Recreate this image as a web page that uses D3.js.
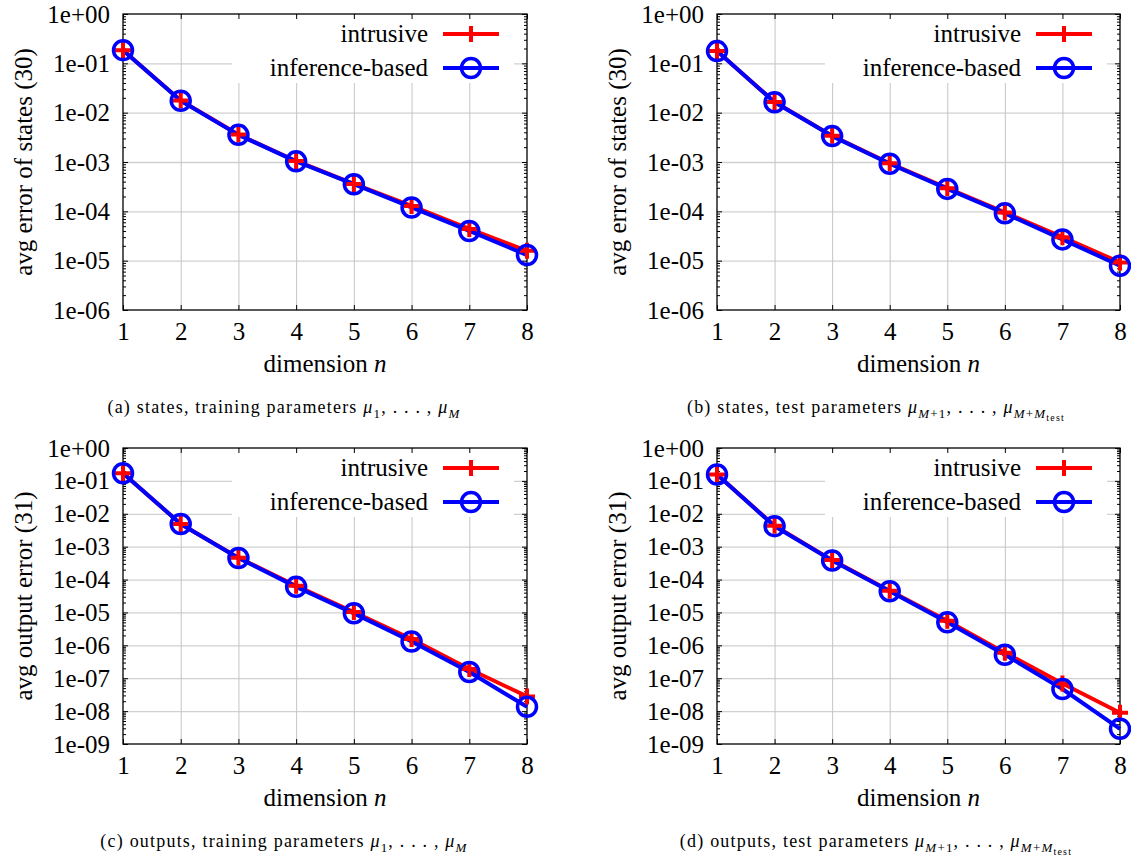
<!DOCTYPE html>
<html>
<head>
<meta charset="utf-8">
<script src="https://cdn.jsdelivr.net/npm/d3@7"></script>
<style>
  body { margin: 0; background: #fff; }
  svg text { font-family: "Liberation Serif", serif; fill: #000; }
</style>
</head>
<body>
<div id="chart"></div>
<script>
// reduced dimension n
const dims = [1, 2, 3, 4, 5, 6, 7, 8];

// values
const statesTrainIntrusive = [0.185, 0.0177, 3.6e-3, 1.05e-3, 3.6e-4, 1.29e-4, 4.4e-5, 1.58e-5];
const statesTrainInference = [0.185, 0.0175, 3.55e-3, 1.03e-3, 3.55e-4, 1.2e-4, 4.0e-5, 1.3e-5];
const statesTestIntrusive = [0.177, 0.0164, 3.4e-3, 9.4e-4, 2.95e-4, 9.5e-5, 3.0e-5, 9.2e-6];
const statesTestInference = [0.177, 0.0163, 3.35e-3, 9.2e-4, 2.85e-4, 9.1e-5, 2.7e-5, 7.9e-6];
const outputsTrainIntrusive = [0.171, 4.9e-3, 4.6e-4, 6.5e-5, 1.03e-5, 1.55e-6, 1.9e-7, 2.8e-8];
const outputsTrainInference = [0.171, 4.9e-3, 4.5e-4, 6.0e-5, 9.4e-6, 1.31e-6, 1.55e-7, 1.35e-8];
const outputsTestIntrusive = [0.156, 4.3e-3, 3.9e-4, 4.6e-5, 5.6e-6, 6.0e-7, 6.9e-8, 8.9e-9];
const outputsTestInference = [0.156, 4.2e-3, 3.8e-4, 4.4e-5, 5.0e-6, 5.2e-7, 4.7e-8, 2.9e-9];

const seriesNames = ["intrusive", "inference-based"];
const statesTicks = ["1e+00", "1e-01", "1e-02", "1e-03", "1e-04", "1e-05", "1e-06"];
const outputsTicks = ["1e+00", "1e-01", "1e-02", "1e-03", "1e-04", "1e-05", "1e-06", "1e-07", "1e-08", "1e-09"];
const statesTitle = "avg error of states (30)";
const outputsTitle = "avg output error (31)";

// caption pieces: [text, level (0 normal, 1 sub, 2 subsub), italic]
const captionA = [["(a) states, training parameters ", 0, false], ["μ", 0, true], ["1", 1, false],
  [", . . . , ", 0, false], ["μ", 0, true], ["M", 1, true]];
const captionB = [["(b) states, test parameters ", 0, false], ["μ", 0, true], ["M", 1, true], ["+1", 1, false],
  [", . . . , ", 0, false], ["μ", 0, true], ["M", 1, true], ["+", 1, false], ["M", 1, true], ["test", 2, false]];
const captionC = [["(c) outputs, training parameters ", 0, false], ["μ", 0, true], ["1", 1, false],
  [", . . . , ", 0, false], ["μ", 0, true], ["M", 1, true]];
const captionD = [["(d) outputs, test parameters ", 0, false], ["μ", 0, true], ["M", 1, true], ["+1", 1, false],
  [", . . . , ", 0, false], ["μ", 0, true], ["M", 1, true], ["+", 1, false], ["M", 1, true], ["test", 2, false]];

const RED = "#ff0000", BLUE = "#0000ff";
const FS = 25;

const svg = d3.select("#chart").append("svg")
  .attr("width", 1131)
  .attr("height", 860);

function drawPanel(p) {
  const w = p.right - p.left;
  const tickVals = p.ticks.map(Number);
  const x = d3.scaleLinear().domain([1, 8]).range([p.left, p.right]);
  const y = d3.scaleLog()
    .domain([tickVals[0], tickVals[tickVals.length - 1]])
    .range([p.top, p.bottom]);

  let minor = [];
  for (let e = 0; e > Math.log10(tickVals[tickVals.length - 1]); e--) {
    for (let k = 2; k <= 9; k++) minor.push(k * Math.pow(10, e - 1));
  }

  const g = svg.append("g");

  // grid
  g.append("g")
    .attr("transform", "translate(" + p.left + ",0)")
    .call(d3.axisLeft(y).tickValues(tickVals.slice(1, -1)).tickSize(-w).tickFormat(""))
    .call(s => s.select(".domain").remove())
    .selectAll("line").attr("stroke", "#d0d0d0").attr("stroke-width", 1.3);
  g.append("g")
    .attr("transform", "translate(0," + p.bottom + ")")
    .call(d3.axisBottom(x).tickValues(dims.slice(1, -1)).tickSize(-(p.bottom - p.top)).tickFormat(""))
    .call(s => s.select(".domain").remove())
    .selectAll("line").attr("stroke", "#c4c4c4").attr("stroke-width", 1);

  // legend background hides the grid
  g.append("rect")
    .attr("x", p.right - 295).attr("y", p.top + 1)
    .attr("width", 282).attr("height", 68)
    .attr("fill", "#fff");

  // ticks (inward, mirrored)
  const tickStyle = s => {
    s.select(".domain").remove();
    s.selectAll("line").attr("stroke", "#000").attr("stroke-width", 1);
    s.selectAll("text").attr("font-size", FS).attr("fill", "#000");
  };
  g.append("g").attr("transform", "translate(" + p.left + ",0)")
    .call(d3.axisLeft(y).tickValues(tickVals).tickFormat((d, i) => p.ticks[i]).tickSize(-5).tickPadding(13))
    .call(tickStyle);
  g.append("g").attr("transform", "translate(" + p.left + ",0)")
    .call(d3.axisLeft(y).tickValues(minor).tickFormat("").tickSize(-3))
    .call(tickStyle);
  g.append("g").attr("transform", "translate(" + p.right + ",0)")
    .call(d3.axisRight(y).tickValues(tickVals).tickFormat("").tickSize(-5))
    .call(tickStyle);
  g.append("g").attr("transform", "translate(" + p.right + ",0)")
    .call(d3.axisRight(y).tickValues(minor).tickFormat("").tickSize(-3))
    .call(tickStyle);
  g.append("g").attr("transform", "translate(0," + p.bottom + ")")
    .call(d3.axisBottom(x).tickValues(dims).tickFormat(d3.format("d")).tickSize(-5).tickPadding(12))
    .call(tickStyle);
  g.append("g").attr("transform", "translate(0," + p.top + ")")
    .call(d3.axisTop(x).tickValues(dims).tickFormat("").tickSize(-5))
    .call(tickStyle);

  // frame
  g.append("rect")
    .attr("x", p.left).attr("y", p.top)
    .attr("width", w).attr("height", p.bottom - p.top)
    .attr("fill", "none").attr("stroke", "#000").attr("stroke-width", 1.3);

  // axis titles
  g.append("text")
    .attr("transform", "translate(" + (p.left - 100) + "," + ((p.top + p.bottom) / 2) + ") rotate(-90)")
    .attr("text-anchor", "middle").attr("dy", "0.35em")
    .attr("font-size", FS)
    .text(p.title);
  const xt = g.append("text")
    .attr("x", (p.left + p.right) / 2).attr("y", p.bottom + 62)
    .attr("text-anchor", "middle").attr("font-size", FS);
  xt.append("tspan").text("dimension ");
  xt.append("tspan").attr("font-style", "italic").text("n");

  // data
  const line = d3.line().x((d, i) => x(dims[i])).y(d => y(d));
  const series = [
    { vals: p.intrusive, color: RED, mark: "plus" },
    { vals: p.inference, color: BLUE, mark: "circle" }
  ];
  series.forEach(s => {
    g.append("path").datum(s.vals)
      .attr("d", line)
      .attr("fill", "none").attr("stroke", s.color).attr("stroke-width", 4)
      .attr("stroke-linejoin", "round");
  });
  series.forEach(s => drawMarks(g, s.vals.map((v, i) => [x(dims[i]), y(v)]), s));

  // legend
  series.forEach((s, i) => {
    const ly = p.top + 20 + i * 34;
    g.append("text")
      .attr("x", p.right - 99).attr("y", ly).attr("dy", "0.32em")
      .attr("text-anchor", "end").attr("font-size", FS)
      .text(seriesNames[i]);
    g.append("line")
      .attr("x1", p.right - 84).attr("x2", p.right - 28)
      .attr("y1", ly).attr("y2", ly)
      .attr("stroke", s.color).attr("stroke-width", 4);
    drawMarks(g, [[p.right - 56, ly]], s);
  });

  // caption
  drawCaption(p.capX, p.bottom + 103, p.caption);
}

function drawMarks(g, pts, s) {
  if (s.mark === "circle") {
    g.selectAll(null).data(pts).enter().append("circle")
      .attr("cx", d => d[0]).attr("cy", d => d[1]).attr("r", 9.5)
      .attr("fill", "none").attr("stroke", s.color).attr("stroke-width", 3.5);
  } else {
    g.selectAll(null).data(pts).enter().append("path")
      .attr("d", d => "M" + (d[0] - 8) + "," + d[1] + "H" + (d[0] + 8) + "M" + d[0] + "," + (d[1] - 8) + "V" + (d[1] + 8))
      .attr("stroke", s.color).attr("stroke-width", 4).attr("fill", "none");
  }
}

function drawCaption(cx, y, parts) {
  const sizes = [18, 13, 10];
  const shifts = [0, 4.5, 7.5];
  const t = svg.append("text")
    .attr("x", cx).attr("y", y)
    .attr("text-anchor", "middle")
    .attr("font-size", 18)
    .attr("letter-spacing", 1.2);
  let level = 0;
  parts.forEach(pt => {
    const ts = t.append("tspan")
      .attr("font-size", sizes[pt[1]])
      .attr("dy", shifts[pt[1]] - shifts[level])
      .text(pt[0]);
    if (pt[2]) ts.attr("font-style", "italic");
    level = pt[1];
  });
}

drawPanel({ left: 123, right: 527, top: 14, bottom: 310, ticks: statesTicks, title: statesTitle,
  intrusive: statesTrainIntrusive, inference: statesTrainInference, capX: 284, caption: captionA });
drawPanel({ left: 717, right: 1120, top: 14, bottom: 310, ticks: statesTicks, title: statesTitle,
  intrusive: statesTestIntrusive, inference: statesTestInference, capX: 876, caption: captionB });
drawPanel({ left: 123, right: 527, top: 448, bottom: 744, ticks: outputsTicks, title: outputsTitle,
  intrusive: outputsTrainIntrusive, inference: outputsTrainInference, capX: 284, caption: captionC });
drawPanel({ left: 717, right: 1120, top: 448, bottom: 744, ticks: outputsTicks, title: outputsTitle,
  intrusive: outputsTestIntrusive, inference: outputsTestInference, capX: 876, caption: captionD });
</script>
</body>
</html>
